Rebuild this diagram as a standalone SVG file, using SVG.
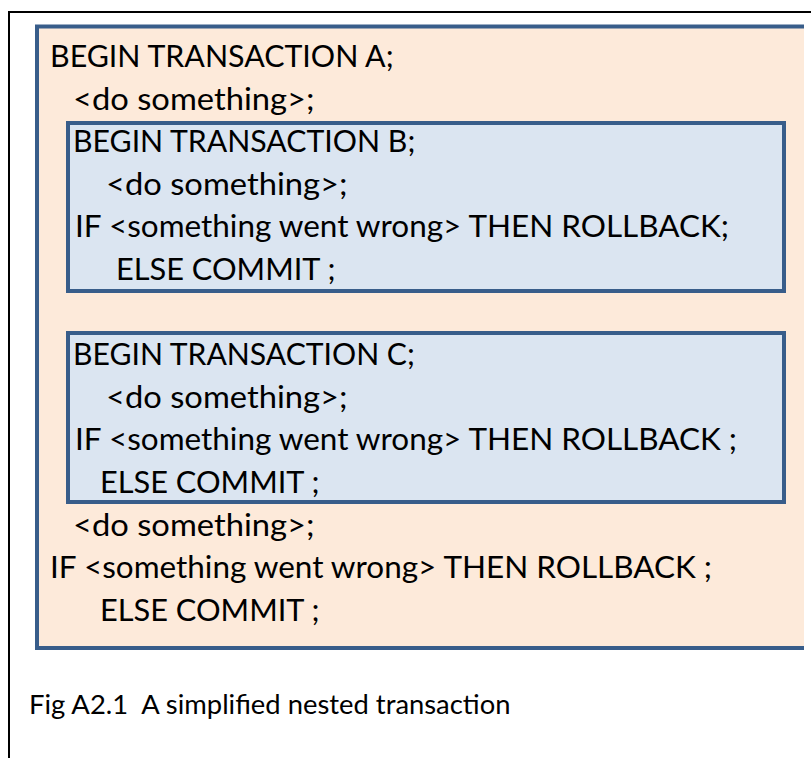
<svg xmlns="http://www.w3.org/2000/svg" width="811" height="758" viewBox="0 0 811 758">
  <style>
    .frame { fill: none; stroke: #000000; stroke-width: 2; }
    .outer { fill: #FDEADA; }
    .inner { fill: #DBE5F1; stroke: #385D8A; stroke-width: 4; }
    .edge { fill: none; stroke: #385D8A; stroke-width: 4; }
    .code { font-family: Lato, "Open Sans", "Liberation Sans", sans-serif; font-size: 31.5px; fill: #000000; white-space: pre; }
    .cap { font-family: Lato, "Open Sans", "Liberation Sans", sans-serif; font-size: 26.5px; fill: #000000; white-space: pre; }
  </style>

  <rect width="811" height="758" fill="#FFFFFF"/>

  <!-- page frame: left and top rules only -->
  <path id="frame" class="frame" d="M9,758 V12 H811"/>

  <!-- outer transaction A -->
  <g id="txnA">
    <rect class="outer" x="37" y="26.5" width="767" height="621.5"/>
    <path class="edge" d="M804,26.5 H37 V648 H804"/>
    <text class="code" x="50" y="67" textLength="343.6" lengthAdjust="spacingAndGlyphs">BEGIN TRANSACTION A;</text>
    <text class="code" x="73" y="109.6" textLength="241.5" lengthAdjust="spacingAndGlyphs">&lt;do something&gt;;</text>
    <text class="code" x="73" y="535.6" textLength="241.5" lengthAdjust="spacingAndGlyphs">&lt;do something&gt;;</text>
    <text class="code" x="50" y="578.2" textLength="662.1" lengthAdjust="spacingAndGlyphs">IF &lt;something went wrong&gt; THEN ROLLBACK ;</text>
    <text class="code" x="100" y="620.8" textLength="219.5" lengthAdjust="spacingAndGlyphs">ELSE COMMIT ;</text>
  </g>

  <!-- nested transaction B -->
  <g id="txnB">
    <rect class="inner" x="68" y="123" width="716" height="168"/>
    <text class="code" x="73" y="152.2" textLength="342.3" lengthAdjust="spacingAndGlyphs">BEGIN TRANSACTION B;</text>
    <text class="code" x="106" y="194.8" textLength="241.5" lengthAdjust="spacingAndGlyphs">&lt;do something&gt;;</text>
    <text class="code" x="75" y="237.4" textLength="654.1" lengthAdjust="spacingAndGlyphs">IF &lt;something went wrong&gt; THEN ROLLBACK;</text>
    <text class="code" x="116" y="280" textLength="219.5" lengthAdjust="spacingAndGlyphs">ELSE COMMIT ;</text>
  </g>

  <!-- nested transaction C -->
  <g id="txnC">
    <rect class="inner" x="68" y="333" width="716" height="169"/>
    <text class="code" x="73" y="365.2" textLength="341.9" lengthAdjust="spacingAndGlyphs">BEGIN TRANSACTION C;</text>
    <text class="code" x="106" y="407.8" textLength="241.5" lengthAdjust="spacingAndGlyphs">&lt;do something&gt;;</text>
    <text class="code" x="75" y="450.4" textLength="662.1" lengthAdjust="spacingAndGlyphs">IF &lt;something went wrong&gt; THEN ROLLBACK ;</text>
    <text class="code" x="100" y="493" textLength="219.5" lengthAdjust="spacingAndGlyphs">ELSE COMMIT ;</text>
  </g>

  <!-- figure caption -->
  <g id="caption">
    <text class="cap" x="29" y="714" textLength="481.5" lengthAdjust="spacingAndGlyphs">Fig A2.1  A simplified nested transaction</text>
  </g>
</svg>
